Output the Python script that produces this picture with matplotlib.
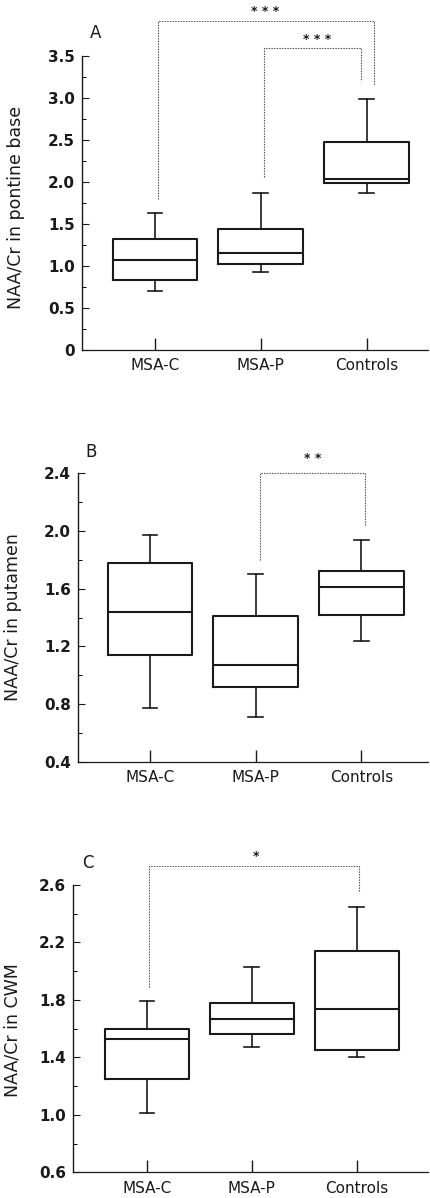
import matplotlib
matplotlib.use("Agg")
import matplotlib.pyplot as plt
from matplotlib.ticker import MultipleLocator, FixedLocator

groups = ["MSA-C", "MSA-P", "Controls"]

# box stats per panel: whislo, q1, med, q3, whishi
pons_lo = [0.70, 0.93, 1.87]
pons_q1 = [0.83, 1.03, 1.99]
pons_med = [1.07, 1.16, 2.04]
pons_q3 = [1.32, 1.44, 2.48]
pons_hi = [1.63, 1.87, 2.99]

put_lo = [0.77, 0.71, 1.24]
put_q1 = [1.14, 0.92, 1.42]
put_med = [1.44, 1.07, 1.61]
put_q3 = [1.78, 1.41, 1.72]
put_hi = [1.97, 1.70, 1.94]

cwm_lo = [1.01, 1.47, 1.40]
cwm_q1 = [1.25, 1.56, 1.45]
cwm_med = [1.53, 1.67, 1.74]
cwm_q3 = [1.60, 1.78, 2.14]
cwm_hi = [1.79, 2.03, 2.45]

plt.rcParams['font.family'] = ['DejaVu Sans']
ink = '#1a1a1a'

fig = plt.figure(figsize=(4.3, 11.98), dpi=100)


def make_stats(lo, q1, med, q3, hi):
    out = []
    for i in range(len(groups)):
        out.append({'whislo': lo[i], 'q1': q1[i], 'med': med[i], 'q3': q3[i],
                    'whishi': hi[i], 'fliers': [], 'label': groups[i]})
    return out


def bracket(ax, x1, y1, x2, y2, top, stars, sx, sy):
    ax.plot([x1, x1, x2, x2], [y1, top, top, y2], color='#444444', lw=0.8,
            ls=(0, (1.2, 1.2)), clip_on=False)
    ax.text(sx, sy, stars, ha='center', va='center', fontsize=9,
            fontweight='bold', color=ink, clip_on=False)


def panel(rect, stats, ylim, major, minor, fmt, ylabel, letter, xlim, lcoords, lpos):
    ax = fig.add_axes(rect)
    ax.bxp(stats, positions=[1, 2, 3], widths=0.8, capwidths=0.14,
           showfliers=False,
           boxprops=dict(color=ink, lw=1.5),
           medianprops=dict(color=ink, lw=1.5),
           whiskerprops=dict(color=ink, lw=1.2),
           capprops=dict(color=ink, lw=1.2))
    ax.set_ylim(*ylim)
    ax.set_xlim(*xlim)
    ax.spines['top'].set_visible(False)
    ax.spines['right'].set_visible(False)
    ax.spines['left'].set_linewidth(1.0)
    ax.spines['bottom'].set_linewidth(0.9)
    ax.spines['left'].set_color(ink)
    ax.spines['bottom'].set_color(ink)
    ax.yaxis.set_major_locator(FixedLocator(major))
    ax.yaxis.set_minor_locator(MultipleLocator(minor))
    ax.set_yticklabels([fmt(v) for v in major])
    ax.tick_params(axis='y', which='major', direction='in', length=5, width=0.8,
                   labelsize=11, pad=5, colors=ink)
    ax.tick_params(axis='y', which='minor', direction='in', length=3, width=0.7)
    ax.set_xticks([1, 2, 3])
    ax.set_xticklabels(groups)
    ax.tick_params(axis='x', direction='in', length=9, width=1.0, labelsize=11,
                   pad=6, colors=ink)
    for t in ax.get_yticklabels():
        t.set_fontweight('bold')
    ax.set_ylabel(ylabel, fontsize=12.5, color=ink)
    ax.yaxis.set_label_coords(*lcoords)
    ax.text(lpos[0], lpos[1], letter, transform=ax.transAxes, fontsize=12,
            ha='left', va='center', color=ink)
    return ax


# Panel A
axA = panel([82 / 430, 0.7078, 346 / 430, 0.2455],
            make_stats(pons_lo, pons_q1, pons_med, pons_q3, pons_hi),
            (0, 3.5), [0, 0.5, 1.0, 1.5, 2.0, 2.5, 3.0, 3.5], 0.25,
            lambda v: "0" if v == 0 else "%.1f" % v,
            "NAA/Cr in pontine base", "A", (0.31, 3.58), (-0.165, 0.486), (0.023, 1.078))
bracket(axA, 1.03, 1.80, 3.07, 3.15, 3.92, "* * *", 2.04, 4.03)
bracket(axA, 2.03, 2.06, 2.95, 3.20, 3.60, "* * *", 2.53, 3.69)

# Panel B
axB = panel([78 / 430, 0.3642, 350 / 430, 0.2407],
            make_stats(put_lo, put_q1, put_med, put_q3, put_hi),
            (0.4, 2.4), [0.4, 0.8, 1.2, 1.6, 2.0, 2.4], 0.2,
            lambda v: "%.1f" % v,
            "NAA/Cr in putamen", "B", (0.32, 3.63), (-0.16, 0.5), (0.02, 1.074))
bracket(axB, 2.04, 1.80, 3.03, 2.04, 2.40, "* *", 2.54, 2.50)

# Panel C
axC = panel([73 / 430, 0.0214, 355 / 430, 0.2399],
            make_stats(cwm_lo, cwm_q1, cwm_med, cwm_q3, cwm_hi),
            (0.6, 2.6), [0.6, 1.0, 1.4, 1.8, 2.2, 2.6], 0.2,
            lambda v: "%.1f" % v,
            "NAA/Cr in CWM", "C", (0.295, 3.68), (-0.144, 0.495), (0.025, 1.077))
bracket(axC, 1.02, 1.89, 3.02, 2.55, 2.73, "*", 2.04, 2.80)

fig.savefig("out.png", dpi=100)
